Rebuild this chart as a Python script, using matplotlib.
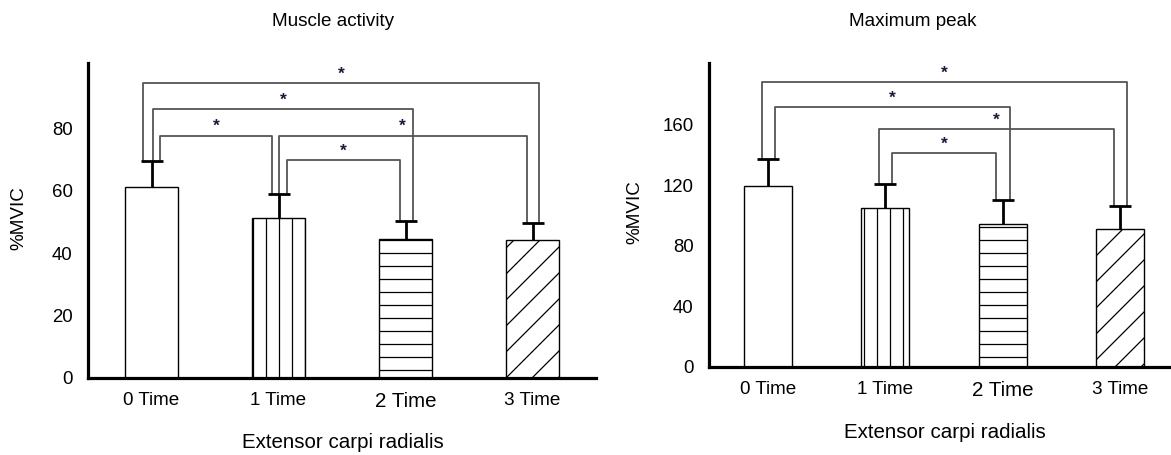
import matplotlib.pyplot as plt
import numpy as np

plt.rcParams['font.family'] = ['Liberation Sans', 'DejaVu Sans']

times = ['0 Time', '1 Time', '2 Time', '3 Time']
hatches = ['', '|', '-', '/']

# muscle activity (%MVIC)
act_mean = [61.0, 51.3, 44.6, 44.2]
act_err = [8.4, 7.5, 5.7, 5.4]
# (bar a, bar b, height)
act_pairs = [(0, 3, 94.5), (0, 2, 86.0), (0, 1, 77.6), (1, 3, 77.6), (1, 2, 69.8)]

# maximum peak (%MVIC)
peak_mean = [119.3, 105.1, 94.1, 91.0]
peak_err = [18.2, 15.7, 16.1, 15.2]
peak_pairs = [(0, 3, 188.0), (0, 2, 171.9), (1, 3, 157.0), (1, 2, 141.5)]

# leg offsets so brackets sitting on one bar do not overlap
act_off = [(-0.063, 0.05), (0.012, 0.06), (0.07, -0.05), (0.0, -0.043), (0.063, -0.04)]
peak_off = [(-0.05, 0.056), (0.064, 0.06), (-0.05, -0.055), (0.06, -0.058)]

# lower dpi so the hatch lines come out as dense as in the original;
# K rescales point sizes back to what they would be at 100 dpi
DPI = 78
K = 100 / DPI
plt.rcParams['hatch.linewidth'] = 0.9 * K

W, H = 1171, 455
fig = plt.figure(figsize=(W / DPI, H / DPI), dpi=DPI)


def panel(rect, mean, err, pairs, offs, ylim, yticks, big_tick):
    ax = fig.add_axes(rect)
    x = np.arange(len(mean))
    ax.bar(x, mean, width=0.41, color='white', edgecolor='black',
           linewidth=1.0 * K, hatch=hatches, zorder=2)
    _, caps, _ = ax.errorbar(x, mean, yerr=[np.zeros(len(err)), err], fmt='none',
                             ecolor='black', elinewidth=2 * K, capsize=8 * K,
                             capthick=2 * K, zorder=3)
    caps[0].set_visible(False)
    top = np.array(mean) + np.array(err)
    for (a, b, y), (da, db) in zip(pairs, offs):
        xa, xb = a + da, b + db
        ax.plot([xa, xa, xb, xb], [top[a], y, y, top[b]],
                color='#555555', lw=1.3 * K, zorder=1)
        ax.text((xa + xb) / 2, y + ylim * 0.004, '*', ha='center', va='bottom',
                fontsize=12.5 * K, fontweight='bold', color='#1a1a3a')
    ax.set_xlim(-0.5, 3.5)
    ax.set_ylim(0, ylim)
    ax.set_yticks(yticks)
    ax.set_xticks(x)
    ax.set_xticklabels(times, fontsize=13.6 * K)
    for i, lab in enumerate(ax.get_xticklabels()):
        if i == big_tick:
            lab.set_fontsize(14.8 * K)
    ax.tick_params(axis='both', length=0)
    ax.tick_params(axis='y', labelsize=13.4 * K, pad=11 * K)
    ax.tick_params(axis='x', pad=10 * K)
    for s in ['top', 'right']:
        ax.spines[s].set_visible(False)
    for s in ['left', 'bottom']:
        ax.spines[s].set_linewidth(2.3 * K)
    return ax


panel([88 / W, 1 - 378 / H, 508 / W, 315 / H], act_mean, act_err, act_pairs,
      act_off, 100.8, [0, 20, 40, 60, 80], 2)
panel([709 / W, 1 - 366.7 / H, 470 / W, 303.4 / H], peak_mean, peak_err,
      peak_pairs, peak_off, 200.6, [0, 40, 80, 120, 160], 2)

fig.text(333 / W, 1 - 22 / H, 'Muscle activity', ha='center', va='center', fontsize=13.6 * K)
fig.text(913 / W, 1 - 22 / H, 'Maximum peak', ha='center', va='center', fontsize=13.6 * K)
fig.text(343 / W, 1 - 442 / H, 'Extensor carpi radialis', ha='center', va='center', fontsize=14.8 * K)
fig.text(945 / W, 1 - 432 / H, 'Extensor carpi radialis', ha='center', va='center', fontsize=14.8 * K)
fig.text(19 / W, 1 - 218 / H, '%MVIC', rotation=90, ha='center', va='center', fontsize=13.6 * K)
fig.text(635 / W, 1 - 212 / H, '%MVIC', rotation=90, ha='center', va='center', fontsize=13.6 * K)

fig.savefig('out.png', dpi=DPI)
